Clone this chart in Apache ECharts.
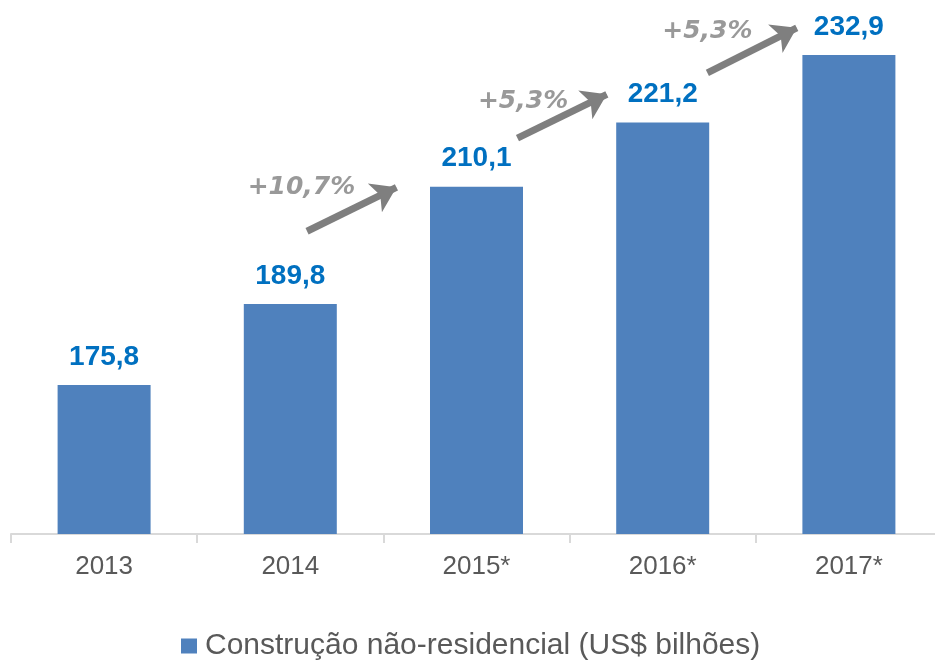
<!DOCTYPE html>
<html>
<head>
    <meta charset="UTF-8">
    <title>Construção não-residencial</title>
    <script type="text/javascript" src="https://cdn.jsdelivr.net/npm/echarts@6/dist/echarts.min.js"></script>
</head>
<body style="margin:0;">
    <div id="chart_main" style="width:935px; height:661px;"></div>
    <script>
        var years = ["2013", "2014", "2015*", "2016*", "2017*"];
        var values = [175.8, 189.8, 210.1, 221.2, 232.9];
        var seriesName = "Construção não-residencial (US$ bilhões)";

        // growth arrows, in data units (x = bar index, y = value)
        var arrowFrom = [[1.09, 202.4], [2.22, 218.5], [3.24, 229.8]];
        var arrowTo = [[1.57, 210.0], [2.70, 226.1], [3.72, 237.6]];
        var growthText = ["+10,7%", "+5,3%", "+5,3%"];
        var growthPos = [[1.06, 210.0], [2.25, 224.8], [3.24, 236.9]];

        var chart_main = echarts.init(document.getElementById('chart_main'), null, {renderer: 'canvas'});

        var arrowData = arrowFrom.map(function (p, i) {
            return {coords: [p, arrowTo[i]]};
        });
        var textData = growthPos.map(function (p, i) {
            return {value: p, name: growthText[i]};
        });

        var option_main = {
            animation: false,
            backgroundColor: "#ffffff",
            grid: {left: 11, width: 931, top: 14, bottom: 127, outerBoundsMode: "none", containLabel: false},
            legend: {
                data: [seriesName],
                left: 176,
                top: 626,
                icon: "rect",
                itemWidth: 16,
                itemHeight: 15,
                textStyle: {fontFamily: "Liberation Sans", fontSize: 30, color: "#595959", padding: [0, 0, 0, 3]}
            },
            xAxis: [
                {
                    type: "category",
                    data: years,
                    axisLine: {lineStyle: {color: "#d9d9d9", width: 2}},
                    axisTick: {show: true, length: 9, lineStyle: {color: "#d9d9d9", width: 2}},
                    axisLabel: {fontFamily: "Liberation Sans", fontSize: 26, color: "#595959", margin: 20}
                },
                {
                    type: "value",
                    min: -0.5,
                    max: 4.5,
                    show: false
                }
            ],
            yAxis: {
                type: "value",
                min: 150,
                max: 240,
                show: false,
                splitLine: {show: false}
            },
            series: [
                {
                    type: "bar",
                    name: seriesName,
                    data: values,
                    barWidth: 93,
                    itemStyle: {color: "#4f81bd"},
                    label: {
                        show: true,
                        position: "top",
                        distance: 14,
                        fontFamily: "Liberation Sans",
                        fontWeight: "bold",
                        fontSize: 28,
                        color: "#0070c0",
                        formatter: function (p) {
                            return p.value.toFixed(1).replace(".", ",");
                        }
                    }
                },
                {
                    type: "lines",
                    coordinateSystem: "cartesian2d",
                    xAxisIndex: 1,
                    symbol: ["none", "arrow"],
                    symbolSize: 24,
                    lineStyle: {color: "#7f7f7f", width: 7, opacity: 1, curveness: 0},
                    data: arrowData,
                    silent: true
                },
                {
                    type: "scatter",
                    xAxisIndex: 1,
                    symbolSize: 0,
                    data: textData,
                    silent: true,
                    label: {
                        show: true,
                        position: "inside",
                        formatter: "{b}",
                        fontFamily: "DejaVu Sans",
                        fontStyle: "italic",
                        fontWeight: "bold",
                        fontSize: 25,
                        color: "#7f7f7f"
                    }
                }
            ]
        };
        chart_main.setOption(option_main);
    </script>
</body>
</html>
